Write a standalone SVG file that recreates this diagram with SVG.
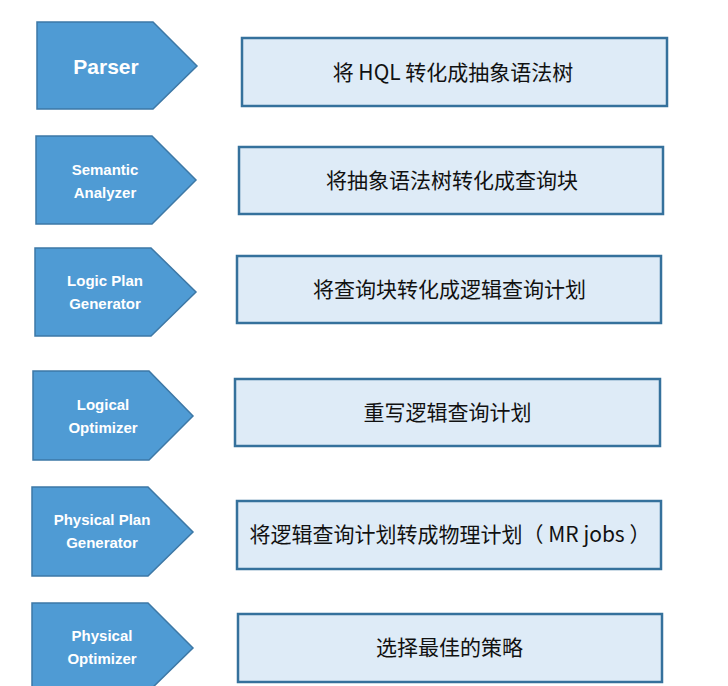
<svg xmlns="http://www.w3.org/2000/svg" width="728" height="686" viewBox="0 0 728 686">
<style>
.stage{fill:#4f9bd4;stroke:#3d78a6;stroke-width:1.5}
.box{fill:#deebf7;stroke:#35719c;stroke-width:2.5}
.lbl{font-family:"Liberation Sans","Noto Sans",sans-serif;font-weight:bold;fill:#ffffff;text-anchor:middle;font-size:15px}
.big{font-size:21px}
.desc{font-family:"Noto Sans CJK SC","Noto Sans",sans-serif;font-size:21px;fill:#111111;text-anchor:middle}
</style>
<rect width="728" height="686" fill="#ffffff"/>
<g id="parser">
<polygon class="stage" points="37,22 153,22 197,66 153,109 37,109"/>
<text class="lbl big" x="106" y="74">Parser</text>
</g>
<g id="semantic-analyzer">
<polygon class="stage" points="36,136 152,136 196,180 152,224 36,224"/>
<text class="lbl" x="105" y="175">Semantic</text>
<text class="lbl" x="105" y="198">Analyzer</text>
</g>
<g id="logic-plan-generator">
<polygon class="stage" points="35,248 151,248 196,292 151,336 35,336"/>
<text class="lbl" x="105" y="286">Logic Plan</text>
<text class="lbl" x="105" y="309">Generator</text>
</g>
<g id="logical-optimizer">
<polygon class="stage" points="33,371 149,371 193,416 149,460 33,460"/>
<text class="lbl" x="103" y="410">Logical</text>
<text class="lbl" x="103" y="433">Optimizer</text>
</g>
<g id="physical-plan-generator">
<polygon class="stage" points="32,487 148,487 193,532 148,576 32,576"/>
<text class="lbl" x="102" y="525">Physical Plan</text>
<text class="lbl" x="102" y="548">Generator</text>
</g>
<g id="physical-optimizer">
<polygon class="stage" points="32,603 148,603 193,648 148,692 32,692"/>
<text class="lbl" x="102" y="641">Physical</text>
<text class="lbl" x="102" y="664">Optimizer</text>
</g>
<g id="desc-parser">
<rect class="box" x="242" y="38" width="425" height="68"/>
<text class="desc" x="453" y="80">将 HQL 转化成抽象语法树</text>
</g>
<g id="desc-semantic">
<rect class="box" x="239" y="147" width="424" height="67"/>
<text class="desc" x="452" y="188">将抽象语法树转化成查询块</text>
</g>
<g id="desc-logic-plan">
<rect class="box" x="237" y="256" width="424" height="67"/>
<text class="desc" x="449.5" y="297">将查询块转化成逻辑查询计划</text>
</g>
<g id="desc-logical-opt">
<rect class="box" x="235" y="379" width="425" height="67"/>
<text class="desc" x="447.5" y="420">重写逻辑查询计划</text>
</g>
<g id="desc-physical-plan">
<rect class="box" x="237" y="501" width="424" height="68"/>
<text class="desc" x="450" y="542">将逻辑查询计划转成物理计划（ MR jobs ）</text>
</g>
<g id="desc-physical-opt">
<rect class="box" x="238" y="614" width="424" height="68"/>
<text class="desc" x="449.5" y="655">选择最佳的策略</text>
</g>
<g id="connectors"></g>
</svg>
